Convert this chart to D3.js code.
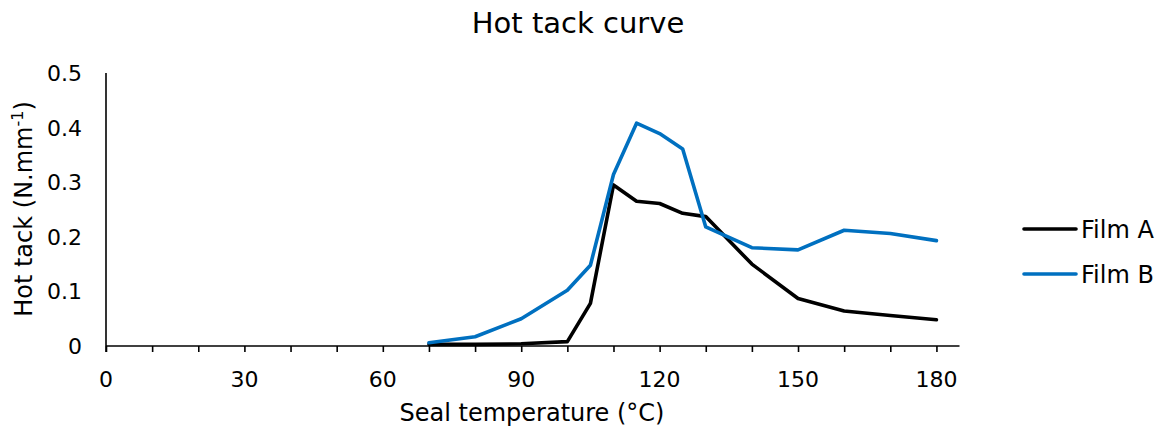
<!DOCTYPE html>
<html>
<head>
<meta charset="utf-8">
<script src="https://cdn.jsdelivr.net/npm/d3@7"></script>
<style>
  html, body { margin: 0; padding: 0; background: #fff; }
  svg { display: block; font-family: "DejaVu Sans", Verdana, sans-serif; }
</style>
</head>
<body>
<svg id="chart" width="1163" height="430"></svg>
<script>
const temperatures = [70, 80, 90, 100, 105, 110, 115, 120, 125, 130, 140, 150, 160, 170, 180];
const filmA = [0.003, 0.003, 0.004, 0.008, 0.078, 0.295, 0.265, 0.261, 0.243, 0.237, 0.150, 0.087, 0.064, 0.056, 0.048];
const filmB = [0.006, 0.017, 0.050, 0.102, 0.148, 0.314, 0.408, 0.389, 0.361, 0.218, 0.180, 0.176, 0.212, 0.206, 0.193];
const seriesNames = ["Film A", "Film B"];
const seriesColors = ["#000000", "#0070C0"];
const xTickLabels = [0, 30, 60, 90, 120, 150, 180];
const xMinorTicks = d3.range(0, 181, 10);
const yTickLabels = [0, 0.1, 0.2, 0.3, 0.4, 0.5];

const svg = d3.select("#chart");
const x = d3.scaleLinear().domain([0, 185]).range([106, 959.5]);
const y = d3.scaleLinear().domain([0, 0.5]).range([346, 73]);

// Title
svg.append("text").attr("x", 578).attr("y", 33).attr("text-anchor", "middle")
  .attr("font-size", 29).attr("fill", "#000").text("Hot tack curve");

// X axis
const xAxis = d3.axisBottom(x).tickValues(xMinorTicks).tickSize(6).tickFormat("");
const gx = svg.append("g").attr("transform", `translate(0,${y(0)})`).call(xAxis);
gx.select(".domain").attr("stroke", "#000").attr("stroke-width", 1.6).attr("d", `M${x(0)},0H${x(185)}`);
gx.selectAll(".tick line").attr("stroke", "#000").attr("stroke-width", 1.6);

svg.append("g").selectAll("text").data(xTickLabels).join("text")
  .attr("x", d => x(d)).attr("y", 387).attr("text-anchor", "middle")
  .attr("font-size", 22).attr("fill", "#000").text(d => d);

// Y axis
svg.append("line").attr("x1", x(0)).attr("x2", x(0)).attr("y1", y(0.5)).attr("y2", y(0) + 6)
  .attr("stroke", "#000").attr("stroke-width", 1.6);
svg.append("g").selectAll("text").data(yTickLabels).join("text")
  .attr("x", 82).attr("y", d => y(d) + 8).attr("text-anchor", "end")
  .attr("font-size", 22).attr("fill", "#000").text(d => d === 0 ? "0" : d3.format(".1f")(d));

// Axis titles
svg.append("text").attr("x", 532).attr("y", 421).attr("text-anchor", "middle")
  .attr("font-size", 24).attr("fill", "#000").text("Seal temperature (°C)");

const yt = svg.append("text").attr("transform", "translate(32,209) rotate(-90)")
  .attr("text-anchor", "middle").attr("font-size", 24).attr("fill", "#000");
yt.append("tspan").text("Hot tack (N.mm");
yt.append("tspan").attr("font-size", 16).attr("dy", -9).text("-1");
yt.append("tspan").attr("dy", 9).text(")");

// Lines
const line = d3.line().x(d => x(d[0])).y(d => y(d[1]));
[filmA, filmB].forEach((vals, i) => {
  svg.append("path").datum(temperatures.map((t, j) => [t, vals[j]]))
    .attr("d", line).attr("fill", "none").attr("stroke", seriesColors[i])
    .attr("stroke-width", 3.6).attr("stroke-linejoin", "round").attr("stroke-linecap", "round");
});

// Legend
seriesNames.forEach((name, i) => {
  const ly = 229 + i * 45;
  svg.append("line").attr("x1", 1024).attr("x2", 1076).attr("y1", ly).attr("y2", ly)
    .attr("stroke", seriesColors[i]).attr("stroke-width", 3.6).attr("stroke-linecap", "round");
  svg.append("text").attr("x", 1081).attr("y", ly + 9).attr("font-size", 24)
    .attr("fill", "#000").text(name);
});
</script>
</body>
</html>
